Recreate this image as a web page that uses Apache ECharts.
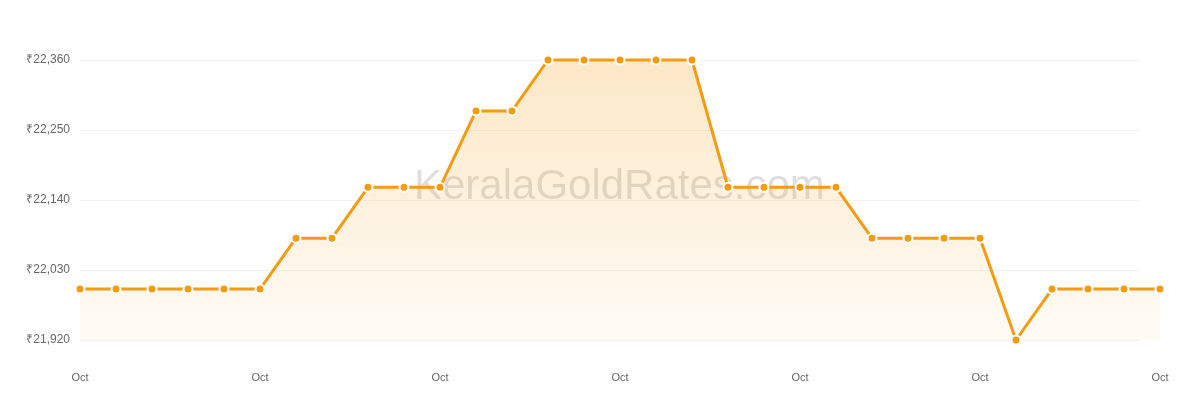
<!DOCTYPE html>
<html>
<head>
<meta charset="utf-8">
<script src="https://cdn.jsdelivr.net/npm/echarts@6/dist/echarts.min.js"></script>
<style>html,body{margin:0;padding:0;background:#fff}#c{width:1200px;height:400px}</style>
</head>
<body>
<div id="c"></div>
<script>
const categories = ['Oct 1','Oct 2','Oct 3','Oct 4','Oct 5','Oct 6','Oct 7','Oct 8','Oct 9','Oct 10','Oct 11','Oct 12','Oct 13','Oct 14','Oct 15','Oct 16','Oct 17','Oct 18','Oct 19','Oct 20','Oct 21','Oct 22','Oct 23','Oct 24','Oct 25','Oct 26','Oct 27','Oct 28','Oct 29','Oct 30','Oct 31'];
const prices = [22000,22000,22000,22000,22000,22000,22080,22080,22160,22160,22160,22280,22280,22360,22360,22360,22360,22360,22160,22160,22160,22160,22080,22080,22080,22080,21920,22000,22000,22000,22000];
const yMin = 21920, yMax = 22360, yStep = 110;
const watermark = 'KeralaGoldRates.com';

const chart = echarts.init(document.getElementById('c'));
chart.setOption({
  animation: false,
  graphic: [{
    type: 'text', left: 414, top: 166, z: 0, silent: true,
    style: { text: watermark, font: '42px "Liberation Sans", Arial, sans-serif', fill: 'rgba(0,0,0,0.13)' }
  }],
  grid: [
    { left: 80, right: 40, top: 60, bottom: 60 },
    { left: 80, right: 60, top: 60, bottom: 60 }
  ],
  xAxis: [{
    type: 'category', gridIndex: 0, data: categories, boundaryGap: false,
    axisLine: { show: false }, axisTick: { show: false },
    axisLabel: { interval: 4, color: '#666', fontSize: 11, margin: 32,
      fontFamily: '"Liberation Sans", Arial, sans-serif',
      formatter: v => v.split(' ')[0] },
    splitLine: { show: false }
  }, {
    type: 'category', gridIndex: 1, data: categories, show: false
  }],
  yAxis: [{
    type: 'value', gridIndex: 0, min: yMin, max: yMax, interval: yStep,
    axisLine: { show: false }, axisTick: { show: false },
    axisLabel: { color: '#666', fontSize: 12, margin: 10, padding: [2, 0, 0, 0],
      fontFamily: '"Liberation Sans", Arial, sans-serif',
      formatter: v => '₹' + v.toLocaleString('en-US') },
    splitLine: { show: false }
  }, {
    type: 'value', gridIndex: 1, min: yMin, max: yMax, interval: yStep,
    axisLine: { show: false }, axisTick: { show: false }, axisLabel: { show: false },
    splitLine: { show: true, lineStyle: { color: '#f3f3f3', width: 1 } }
  }],
  series: [{
    type: 'line', xAxisIndex: 0, yAxisIndex: 0, data: prices,
    symbol: 'circle', symbolSize: 9, showSymbol: true, clip: false,
    itemStyle: { color: '#f39c12', borderColor: '#fff', borderWidth: 2 },
    lineStyle: { color: '#f39c12', width: 3 },
    areaStyle: {
      color: new echarts.graphic.LinearGradient(0, 0, 0, 1, [
        { offset: 0, color: 'rgba(243,156,18,0.34)' },
        { offset: 1, color: 'rgba(243,156,18,0.06)' }
      ])
    },
    z: 3
  }]
});
</script>
</body>
</html>
